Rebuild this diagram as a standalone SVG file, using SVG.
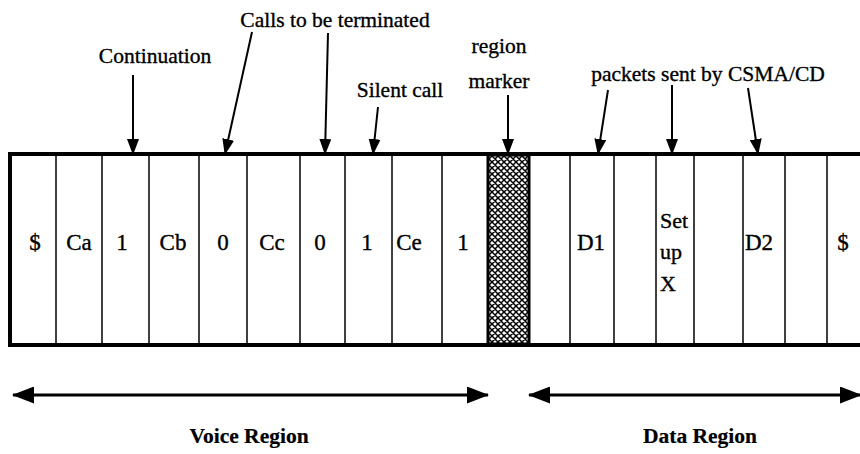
<svg xmlns="http://www.w3.org/2000/svg" width="860" height="454" viewBox="0 0 860 454">
<defs>
<style>
text{font-family:"Liberation Serif","Times New Roman",serif;font-size:21.5px;fill:#000;stroke:#000;stroke-width:0.35}
.c{text-anchor:middle}
.b{font-weight:bold;stroke-width:0.2}
.v{font-size:23px}
.s{font-size:22px}
.cell{stroke:#000;stroke-width:1.5;fill:none}
.frame{stroke:#000;stroke-width:4;fill:none}
.arr{stroke:#000;stroke-width:2;fill:none}
.big{stroke:#000;stroke-width:3;fill:none}
</style>
<marker id="ah" viewBox="0 0 16 12" refX="15" refY="6" markerWidth="16" markerHeight="12" markerUnits="userSpaceOnUse" orient="auto">
<path d="M0,0 L16,6 L0,12 Z" fill="#000"/>
</marker>
<marker id="ah2" viewBox="0 0 22 17" refX="21" refY="8.5" markerWidth="22" markerHeight="17" markerUnits="userSpaceOnUse" orient="auto-start-reverse">
<path d="M0,0 L22,8.5 L0,17 Z" fill="#000"/>
</marker>
<pattern id="hatch" width="6" height="6" patternUnits="userSpaceOnUse">
<rect width="6" height="6" fill="#fff"/>
<path d="M-1,1 L1,-1 M0,6 L6,0 M5,7 L7,5 M-1,5 L1,7 M0,0 L6,6 M5,-1 L7,1" stroke="#000" stroke-width="1.5"/>
</pattern>
</defs>

<g id="frame">
<line class="frame" x1="8" y1="154" x2="860" y2="154"/>
<line class="frame" x1="8" y1="345" x2="860" y2="345"/>
<line class="frame" x1="10" y1="152" x2="10" y2="347"/>
<line class="cell" x1="56" y1="154" x2="56" y2="345"/>
<line class="cell" x1="102" y1="154" x2="102" y2="345"/>
<line class="cell" x1="149" y1="154" x2="149" y2="345"/>
<line class="cell" x1="199" y1="154" x2="199" y2="345"/>
<line class="cell" x1="247" y1="154" x2="247" y2="345"/>
<line class="cell" x1="300" y1="154" x2="300" y2="345"/>
<line class="cell" x1="345" y1="154" x2="345" y2="345"/>
<line class="cell" x1="392" y1="154" x2="392" y2="345"/>
<line class="cell" x1="442" y1="154" x2="442" y2="345"/>
<line class="cell" x1="570" y1="154" x2="570" y2="345"/>
<line class="cell" x1="614" y1="154" x2="614" y2="345"/>
<line class="cell" x1="656" y1="154" x2="656" y2="345"/>
<line class="cell" x1="694" y1="154" x2="694" y2="345"/>
<line class="cell" x1="743" y1="154" x2="743" y2="345"/>
<line class="cell" x1="785" y1="154" x2="785" y2="345"/>
<line class="cell" x1="827" y1="154" x2="827" y2="345"/>
</g>

<g id="region-marker">
<rect x="488" y="155" width="41" height="189" fill="url(#hatch)" stroke="#000" stroke-width="3"/>
</g>

<g id="cells">
<text class="c v" x="35" y="250">$</text>
<text class="c v" x="79" y="250">Ca</text>
<text class="c v" x="122" y="250">1</text>
<text class="c v" x="173" y="250">Cb</text>
<text class="c v" x="223" y="250">0</text>
<text class="c v" x="272" y="250">Cc</text>
<text class="c v" x="320" y="250">0</text>
<text class="c v" x="367" y="250">1</text>
<text class="c v" x="409" y="250">Ce</text>
<text class="c v" x="463" y="250">1</text>
<text class="c v" x="591" y="250">D1</text>
<text class="s" x="660" y="228">Set</text>
<text class="s" x="660" y="259">up</text>
<text class="s" x="660" y="291">X</text>
<text class="c v" x="759" y="250">D2</text>
<text class="c v" x="843" y="250">$</text>
</g>

<g id="labels">
<text class="c" x="155" y="63">Continuation</text>
<text class="c" x="335" y="27">Calls to be terminated</text>
<text class="c" x="400" y="97">Silent call</text>
<text class="c" x="499" y="53">region</text>
<text class="c" x="499" y="88">marker</text>
<text class="c" x="708" y="81">packets sent by CSMA/CD</text>
<text class="c b" x="249" y="443">Voice Region</text>
<text class="c b" x="700" y="443">Data Region</text>
</g>

<g id="connectors">
<line class="arr" x1="133" y1="75" x2="133" y2="154" marker-end="url(#ah)"/>
<line class="arr" x1="252" y1="32" x2="225" y2="154" marker-end="url(#ah)"/>
<line class="arr" x1="328" y1="33" x2="325" y2="154" marker-end="url(#ah)"/>
<line class="arr" x1="378" y1="107" x2="373" y2="154" marker-end="url(#ah)"/>
<line class="arr" x1="508" y1="95" x2="508" y2="154" marker-end="url(#ah)"/>
<line class="arr" x1="608" y1="90" x2="598" y2="154" marker-end="url(#ah)"/>
<line class="arr" x1="672" y1="85" x2="672" y2="154" marker-end="url(#ah)"/>
<line class="arr" x1="748" y1="88" x2="758" y2="154" marker-end="url(#ah)"/>
<line class="big" x1="13" y1="395" x2="488" y2="395" marker-start="url(#ah2)" marker-end="url(#ah2)"/>
<line class="big" x1="529" y1="395" x2="861" y2="395" marker-start="url(#ah2)" marker-end="url(#ah2)"/>
</g>
</svg>
